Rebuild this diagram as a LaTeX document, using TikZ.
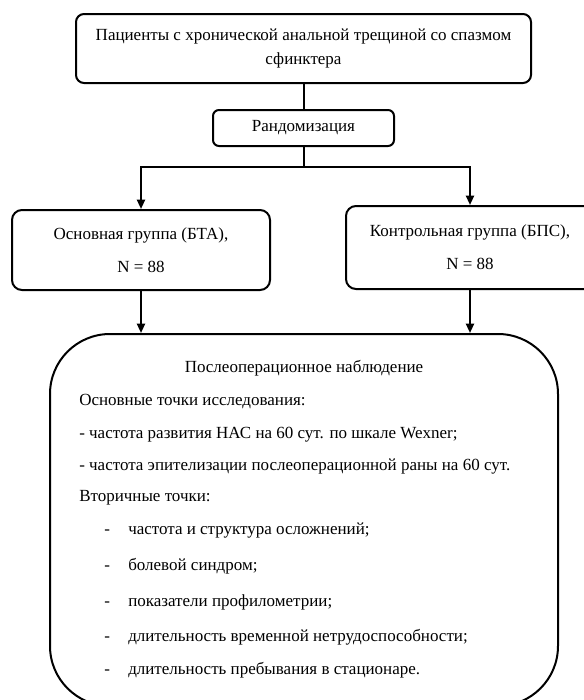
\documentclass[tikz,border=0pt]{standalone}
\usepackage{fontspec}
\setmainfont{Liberation Serif}
\usetikzlibrary{arrows.meta}

\begin{document}
\begin{tikzpicture}[x=0.75pt,y=0.75pt,yscale=-1,xscale=1,
  font=\fontsize{12.75}{18}\selectfont,
  box/.style={draw, line width=1.5pt, inner sep=0pt, align=center},
  conn/.style={line width=1.5pt},
  arr/.style={line width=1.5pt, -{Triangle[length=7pt,width=6pt]}},
  txt/.style={inner sep=0pt, anchor=west, text height=8.5pt, text depth=2.5pt}]
%set diagram: width 584, height 700
\clip (0,0) rectangle (584,700);
\fill[white] (0,0) rectangle (584,700);

%Shape: Rounded Rectangle [patients]
\node[box, rounded corners=6pt, minimum width=341.25pt, minimum height=51.75pt] (patients) at (303.5,48.5)
  {Пациенты с хронической анальной трещиной со спазмом\\сфинктера};
%Shape: Rounded Rectangle [random]
\node[box, rounded corners=4.5pt, minimum width=135.75pt, minimum height=27pt] (random) at (303.5,128)
  {Рандомизация};
%Shape: Rounded Rectangle [grpbta]
\node[box, rounded corners=7.5pt, minimum width=193.5pt, minimum height=60pt] (grpbta) at (141,250)
  {Основная группа (БТА),\\[7pt]N = 88};
%Shape: Rounded Rectangle [grpbps]
\node[box, rounded corners=7.5pt, minimum width=186pt, minimum height=62.25pt] (grpbps) at (470,247.5)
  {Контрольная группа (БПС),\\[7pt]N = 88};
%Shape: Rounded Rectangle [followup]
\node[box, rounded corners=45pt, minimum width=381pt, minimum height=279pt] (followup) at (304,520) {};

%Straight Lines [patients - random]
\draw[conn] (patients) -- (random);
%Straight Lines [split]
\draw[conn] (random.south) -- (random.south |- 0,167) coordinate (split);
%Arrows [split - groups]
\draw[arr] (split) -| (grpbta.north);
\draw[arr] (split) -| (grpbps.north);
%Arrows [groups - followup]
\draw[arr] (grpbta.south) -- (grpbta.south |- followup.north);
\draw[arr] (grpbps.south) -- (grpbps.south |- followup.north);

% Text Node
\node[inner sep=0pt] (fuhead) at (304,368) {Послеоперационное наблюдение};
% Text Node
\node[txt] (primhead) at (79,401) {Основные точки исследования:};
% Text Node
\node[txt] (prim1) at (79,434) {- частота развития НАС на 60 сут. по шкале Wexner;};
% Text Node
\node[txt] (prim2) at (79,466) {- частота эпителизации послеоперационной раны на 60 сут.};
% Text Node
\node[txt] (sechead) at (79,497) {Вторичные точки:};
% Text Node
\node[txt] (dash1) at (104,530) {-};
\node[txt] (sec1) at (128,530) {частота и структура осложнений;};
% Text Node
\node[txt] (dash2) at (104,566) {-};
\node[txt] (sec2) at (128,566) {болевой синдром;};
% Text Node
\node[txt] (dash3) at (104,602) {-};
\node[txt] (sec3) at (128,602) {показатели профилометрии;};
% Text Node
\node[txt] (dash4) at (104,637) {-};
\node[txt] (sec4) at (128,637) {длительность временной нетрудоспособности;};
% Text Node
\node[txt] (dash5) at (104,670) {-};
\node[txt] (sec5) at (128,670) {длительность пребывания в стационаре.};
\end{tikzpicture}
\end{document}
